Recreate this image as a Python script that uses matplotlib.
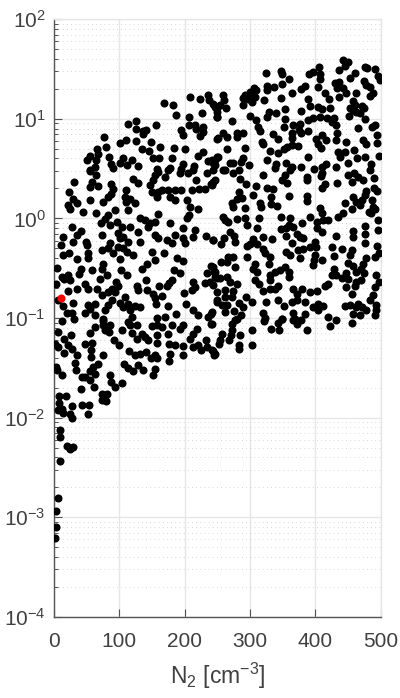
import numpy as np
import matplotlib
matplotlib.use('Agg')
import matplotlib.pyplot as plt
from matplotlib.ticker import FixedLocator, NullFormatter

# points as (N2, log10 of the y value), by region
top_left = [(168,1.16),(182.6,1.135),(186.7,1.04),(208,1.22),(207,1.02),(227,1.055),(224,1.195),(236,1.24),(237,1.19),(246,1.12),(249,1.07),(249,1.02),
(125.5,0.98),(113,0.95),(155.6,0.94),(125,0.90),(141,0.887),(136,0.88),(137,0.844),(76.5,0.814),(194,0.887),(198,0.837),(206,0.94),(216,0.94),(228,0.92),(218,0.894),(224,0.827),(228,0.87),(249,0.793),
(110,0.784),(101,0.754),(125,0.78),(149,0.764),(79,0.713),(66,0.693),(134,0.70),(145,0.673),(162,0.717),(183.6,0.703),(200,0.696),(228,0.67),(221,0.63),(55,0.63),(68,0.646),(50,0.586),(106,0.603),(119,0.59),(84,0.616),(152,0.61),(161,0.603),(181,0.603),(236,0.58),(246,0.586),(251,0.62),(65,0.586),
(101,0.552),(87,0.542),(112,0.535),(128,0.525),(197,0.546),(214,0.525),(158,0.50),(177.5,0.51),(244,0.552),(63,0.52),(55,0.485),(195,0.50),(90,0.51)]

top_right = [(324,1.457),(347,1.484),(348.5,1.45),(360,1.403),(390,1.45),(396,1.467),(405.6,1.524),(408,1.45),(407,1.40),(404.5,1.323),(442,1.594),(450,1.567),(445,1.534),(436,1.49),(476,1.52),(479,1.515),(492,1.50),(496,1.43),(499,1.39),(461,1.457),(453,1.407),(474,1.383),(478.5,1.34),(483.6,1.323),(430,1.356),(436.7,1.373),(433.6,1.306),(443,1.306),(447,1.263),(415,1.256),
(349.5,1.346),(337,1.323),(325.5,1.333),(326.5,1.29),(384,1.33),(377.5,1.296),(363.8,1.256),(306,1.306),(309,1.29),(300,1.273),(292,1.24),(288.8,1.206),(302.6,1.22),(297.5,1.195),(307.6,1.216),(302.6,1.172),(290,1.14),(321.4,1.19),(347,1.206),(259,1.24),(260,1.19),(244,1.145),(249,1.105),(263,1.105),(254,1.14),(249,1.02),
(389,1.196),(392,1.13),(421,1.196),(423,1.105),(404.5,1.12),(410,1.10),(436.7,1.216),(463,1.263),(483.6,1.23),(488.7,1.256),(458,1.18),(453,1.105),(460.7,1.14),(474.4,1.105),(463,1.07),(452,1.03),(468,1.055),(476,1.0),(458,1.09),(471,1.125),
(353.5,1.10),(377.5,1.075),(329.6,1.07),(339.8,1.055),(325.5,1.015),(353.5,0.998),(300,1.03),(309,0.988),(272,0.975),(389,0.988),(397,1.01),(407,1.015),(418,1.005),(428.5,1.005),(431.6,0.94),(425,0.97),(492,0.937),(487.7,0.92),(465.8,0.904),
(366,0.937),(376.5,0.948),(375.5,0.887),(352,0.914),(311.7,0.92),(315.3,0.88),(335.7,0.847),(363.8,0.86),(389,0.877),(379,0.854),(363.8,0.804),(343.4,0.794),(259.2,0.86),(251.5,0.804),(264.3,0.82),(279.6,0.854),(288.8,0.86),(281,0.814),
(401,0.794),(411,0.837),(416.3,0.787),(404.5,0.744),(408.6,0.703),(433.6,0.854),(432.6,0.787),(447,0.77),(495.3,0.837),(495.3,0.76),(473.4,0.787),(478.5,0.747),(318,0.77),(320.4,0.744),(363.8,0.737),(357,0.72),(352,0.693),(374,0.73),(343.4,0.653),(330.6,0.68),(265.3,0.693),(292.4,0.703),
(435,0.67),(445.4,0.67),(459,0.686),(437.7,0.62),(464.2,0.603),(476,0.62),(498,0.63),(389.3,0.62),(249,0.62),(241.4,0.586),(289.8,0.603),(325.5,0.586),(287,0.57),(450.5,0.56),(339.3,0.546),(355,0.552),(269.4,0.552),(274.5,0.552),(299,0.532),(363.8,0.519),(377.5,0.519),(417.3,0.546),(409.7,0.519),(432.6,0.519),(398,0.50),(486,0.546),(483.6,0.49),(246.5,0.536),(259,0.49),(338,0.51)]

mid_left = [(55,0.479),(65,0.435),(31,0.37),(57.6,0.368),(55,0.318),(68,0.325),(88,0.35),(90,0.30),(121,0.40),(129,0.36),(111,0.285),(88,0.25),(83,0.217),(108.6,0.217),(116,0.20),(124,0.15),(111,0.167),(23.5,0.268),(29.6,0.20),(35.7,0.15),(22,0.134),(24.5,0.094),(45,0.067),(55,0.184),(74.5,0.167),(63.8,0.05),(93,0.083),(112.7,0.083),(83,0.033),(78,-0.01),(72,-0.044),(86,-0.067),(97,-0.034),(103.5,-0.084),(116,-0.084),(131.6,0),(147,-0.05),(139,-0.017),(154.5,-0.034),(158.6,0.04),(144.4,-0.084),(178,-0.044),(203,0),(206.6,0.033),(208,0.117),(203,0.184),(221,0.09),
(152,0.385),(154.5,0.435),(159.6,0.469),(170,0.418),(175,0.485),(147,0.335),(149.5,0.268),(158.6,0.268),(157,0.217),(177.5,0.217),(185,0.184),(165,0.285),(175,0.285),(185,0.285),(195,0.285),(210.6,0.285),(222.4,0.30),(231,0.30),(241,0.35),(246,0.385),(193,0.452),(205.5,0.452),(218,0.385),(233.6,0.452),(213,0.485),(244,0.485),
(28,-0.084),(41,-0.124),(34.7,-0.168),(13.3,-0.19),(29.6,-0.235),(10.2,-0.268),(48.5,-0.235),(51,-0.268),(23.5,-0.352),(14.3,-0.369),(34.7,-0.412),(51.5,-0.352),(52.6,-0.402),(73,-0.168),(85.7,-0.25),(73,-0.32),(83,-0.30),(90.8,-0.352),(101,-0.406),(98.5,-0.15),(101,-0.2),(106,-0.184),(113.7,-0.235),(98.5,-0.285),(106,-0.30),(112,-0.335),(121.4,-0.369),(131.6,-0.235),(128,-0.134),(149.4,-0.335),(168.3,-0.352),(154.5,-0.42),(141.8,-0.453),(134,-0.503),(159.6,-0.2),(154.5,-0.168),(172.4,-0.218),(185,-0.168),(181,-0.25),(198,-0.094),(198,-0.2),(200.5,-0.25),(216,-0.117),(213,-0.19),(232.6,-0.178),(243,-0.218),(187.7,-0.402),(197,-0.429),(184,-0.52),(193,-0.553),(241,-0.48),(246.4,-0.536),(233.6,-0.553),(250,-0.603),
(5,-0.493),(41,-0.503),(38.8,-0.56),(57.6,-0.513),(75.5,-0.453),(73,-0.503),(102,-0.513),(112,-0.566),(80.6,-0.57),(70.4,-0.613),(11.8,-0.587),(22,-0.57),(15.3,-0.613),(24.5,-0.62),(3,-0.654),(47.5,-0.66),(52.6,-0.704),(65.3,-0.704),(34.7,-0.71),(22,-0.73),(140.8,-0.62),(95,-0.637),(98.5,-0.68),(88.3,-0.704),(93.4,-0.737),(83,-0.737),(73,-0.77),(126.5,-0.68),(129,-0.714),(141.8,-0.72),(161,-0.677),(152,-0.754),(172.4,-0.68),(180,-0.62),(176,-0.65),(213,-0.637),(215.7,-0.687),(212,-0.714),(199,-0.744),(231,-0.647),(238.7,-0.637),(244,-0.67),(249,-0.737),
(6.6,-0.82),(13.3,-0.878),(29.6,-0.851),(108.6,-0.794),(101,-0.848),(113.7,-0.855),(106,-0.888),(124,-0.878),(131.6,-0.888),(116,-0.92),(88.3,-0.82),(83,-0.871),(78,-0.92),(62.8,-0.861),(52.6,-0.871),(55,-0.905),(47.5,-0.948),(19.4,-0.945),(27,-0.948),(62.8,-0.972),(75.5,-1.015),(118.9,-0.99),(154.5,-0.804),(155.6,-0.861),(164.8,-0.78),(175,-0.881),(186.7,-0.955),(201.5,-0.855),(213,-0.92),(221,-0.972),(241,-0.955),(236,-0.99),(249,-0.838),(169.9,-0.988),(157,-1.005)]

mid_right = [(244,0.368),(241.4,0.335),(261.8,0.485),(274.5,0.452),(283.7,0.485),(284.7,0.392),(294,0.35),(310,0.325),(320.4,0.435),(325.5,0.301),(335.7,0.291),(348.5,0.385),(353.5,0.435),(361,0.485),(357,0.358),(386.7,0.418),(387.7,0.385),(411,0.459),(409.6,0.425),(414.8,0.345),(411,0.301),(433.6,0.351),(450.5,0.435),(459,0.459),(465.8,0.418),(473.4,0.385),(455.6,0.368),(490.2,0.402),(489.7,0.301),(495.3,0.278),(478.5,0.278),(477,0.234),(458,0.217),(487.2,0.184),(446.4,0.16),(472.4,0.184),(463.2,0.167),(468.3,0.134),(455.6,0.094),(488.7,0.117),(482.6,0.067),(486.2,0.05),(491,0.09),(442.8,0.05),(435,0.01),
(283.7,0.261),(287.2,0.201),(279.6,0.191),(272,0.15),(274.5,0.11),(292.4,0.10),(305.1,0.234),(315.3,0.15),(316.3,0.11),(332.1,0.217),(331.6,0.14),(341.8,0.124),(359.7,0.224),(386.7,0.224),(386.7,0.177),(408.1,0.10),(409.7,0.05),(391.8,0.016),(412.2,-0.017),(419.9,-0.017),(402,-0.034),(402,-0.1),(346.9,0.016),(361.2,0),(360.2,-0.067),(346.9,-0.11),(355.1,-0.1),(366.3,-0.084),(380.1,-0.05),(355.1,-0.178),(372.4,-0.158),(376.5,-0.184),(363.8,-0.25),(381.6,-0.201),(410.7,-0.134),
(258.2,0.016),(261.8,-0.017),(266.9,-0.034),(279.6,-0.01),(292.4,0),(294.9,-0.067),(314.3,0),(311.2,-0.094),(269.4,-0.134),(275.5,-0.178),(277.1,-0.241),(260.2,-0.201),(255.6,-0.258),(242.9,-0.221),(304.1,-0.208),(320.4,-0.191),(333.7,-0.208),(300,-0.252),(294.9,-0.278),(310.2,-0.252),(320.4,-0.302),(323,-0.352),(294.9,-0.392),(330.6,-0.386),(329.6,-0.453),(307.6,-0.453),(305.1,-0.503),(310.2,-0.536),
(266.9,-0.392),(274.5,-0.392),(255.6,-0.442),(264.3,-0.436),(277.1,-0.486),(242.9,-0.486),(244.9,-0.536),(353.5,-0.486),(345.9,-0.52),(338.3,-0.536),(330.6,-0.57),(359.7,-0.536),(360.2,-0.593),(330.6,-0.62),
(374,-0.319),(381.6,-0.302),(391.8,-0.285),(399.4,-0.235),(401,-0.285),(355.1,-0.335),(361.2,-0.369),(376.5,-0.396),(399.4,-0.369),(397.9,-0.419),(396.9,-0.469),(409.7,-0.419),(431.6,-0.178),(425.5,-0.285),(441.3,-0.308),(428.5,-0.375),(455.6,-0.319),(453,-0.369),(458.1,-0.124),(458.1,-0.184),(476,-0.074),(476,-0.158),(477,-0.245),(496.4,-0.017),(496.4,-0.118),(495.3,-0.275),(497.9,-0.352),(491.3,-0.386),(478.5,-0.402),(473.4,-0.453),(450.5,-0.443),(458.1,-0.479),(463.2,-0.536),(474.4,-0.553),(470.9,-0.503),
(429,-0.503),(425,-0.57),(432.6,-0.57),(440.3,-0.603),(447.9,-0.553),(450.5,-0.613),(447.9,-0.687),(419.9,-0.654),(414.8,-0.68),(463.2,-0.637),(470.9,-0.62),(460.7,-0.68),(493.8,-0.57),(497.9,-0.637),(491.3,-0.687),(455.6,-0.754),(488.7,-0.771),(483.6,-0.821),
(307.6,-0.62),(314.3,-0.66),(343.4,-0.68),(338.3,-0.704),(330.6,-0.704),(320.4,-0.727),(366.3,-0.704),(379.1,-0.704),(372.4,-0.754),(391.8,-0.737),(402,-0.727),(343.4,-0.821),(352,-0.881),(324.5,-0.838),(363.8,-0.838),(371.4,-0.821),(384.2,-0.838),(396.9,-0.888),(404.6,-0.855),(412.2,-0.878),(404.6,-0.922),
(445.4,-0.878),(453,-0.871),(465.8,-0.855),(463.2,-0.888),(472.4,-0.888),(477.5,-0.922),(492.8,-0.871),(493.8,-0.922),(458.1,-0.955),(469.3,-0.972),(492.3,-0.972),(419.9,-0.988),
(246.5,-0.587),(254.1,-0.603),(265.3,-0.587),(269.4,-0.637),(279.6,-0.654),(261.8,-0.72),(274.5,-0.727),(261.8,-0.788),(272,-0.788),(249,-0.821),(256.7,-0.871),(264.3,-0.871),(283.7,-0.845),(293.9,-0.794),(302.6,-0.838),(289.8,-0.888),(275.5,-0.928),(261.8,-0.938),(241.4,-0.938),(285.7,-0.972),(279.6,-1.015),(320.4,-0.948),(323,-1.005),(366.3,-0.948),(384.2,-0.955),(348.5,-1.015),(368.9,-1.015)]

low_left = [(12.8,-1.03),(31,-1.012),(74.5,-1.03),(62.8,-1.09),(75.5,-1.072),(85.7,-1.072),(55,-1.15),(78,-1.122),(84.7,-1.14),(103.6,-1.122),(116.3,-1.072),(126.5,-1.066),(113.8,-1.039),(118.9,-1.15),(134.2,-1.156),(126.5,-1.206),(139.3,-1.19),(144.4,-1.223),(149.5,-1.079),(157.1,-1.072),(164.8,-1.09),(180,-1.072),(175,-1.156),(157.1,-1.173),(157.1,-1.247),(197.9,-1.072),(192.8,-1.106),(218.3,-1.106),(240.2,-1.062),(212.2,-1.156),(208.1,-1.206),(232.6,-1.223),(91.8,-1.223),(99.5,-1.273),
(5.6,-1.139),(26,-1.166),(15.3,-1.206),(1.5,-1.257),(6.6,-1.29),(22,-1.273),(15.8,-1.347),(28,-1.307),(34.7,-1.374),(47.5,-1.257),(57.6,-1.247),(56.6,-1.317),(56.1,-1.39),(75.5,-1.374),(32.2,-1.448),(33.7,-1.518),(3.1,-1.491),(4.1,-1.524),(12.8,-1.568),(42.4,-1.592),(47.5,-1.592),(55,-1.618),(55,-1.534),(62.8,-1.565),(67.9,-1.457),(60.2,-1.491),(85.7,-1.575),(87.2,-1.642),(93.4,-1.692),(104.6,-1.655),(61.2,-1.692),(40.8,-1.716),
(176.5,-1.257),(185.2,-1.273),(197.9,-1.28),(212.2,-1.29),(220.9,-1.273),(225,-1.317),(233.6,-1.29),(243.8,-1.33),(245.3,-1.367),(196.9,-1.374),(177.5,-1.364),(176.5,-1.434),(115.3,-1.33),(123.9,-1.374),(131.6,-1.357),(140.8,-1.34),(147.9,-1.4),(157.1,-1.4),(154.5,-1.367),(107.6,-1.457),(113.8,-1.498),(121.4,-1.531),(129,-1.474),(135.7,-1.518),(154.5,-1.515),(151,-1.568),
(8.2,-1.786),(18.4,-1.786),(8.2,-1.853),(27,-1.886),(42.4,-1.876),(54.1,-1.87),(6.6,-1.927),(12.8,-1.91),(14.3,-1.953),(24.5,-1.96),(28,-2.0),(51.5,-1.96),(73,-1.826),(80.6,-1.759),(79.6,-1.833),(74,-1.759),(9.2,-2.128),(9.2,-2.195),(20.4,-2.288),(24.5,-2.312),(28.6,-2.295),(9.2,-2.436)]

low_right = [(241.4,-1.056),(272,-1.062),(277,-1.022),(302.6,-1.123),(321.4,-1.032),(331.6,-1.113),(343.4,-1.046),(349.5,-1.012),(344.4,-1.116),(366.3,-1.022),(372.4,-1.056),(377.5,-1.022),(388.2,-1.123),(432.1,-1.022),(422.4,-1.079),(455.6,-1.046),(272,-1.123),(270.4,-1.173),(268.4,-1.216),(256.7,-1.163),(254.1,-1.216),(253.1,-1.257),(284.7,-1.17),(283.7,-1.273),(283.7,-1.307),(302.6,-1.267),(241.4,-1.317),(246.5,-1.357)]

tail = [(5.6,-2.804),(3.1,-2.942),(2.6,-3.10),(1.5,-3.206)]
highlight = [(10,-0.804)]

x_ticks = [0, 100, 200, 300, 400, 500]
y_exps = [-4, -3, -2, -1, 0, 1, 2]
y_labels = ['10$^{\\mathrm{%d}}$' % e for e in y_exps]

plt.rcParams['font.family'] = ['Liberation Sans', 'DejaVu Sans']
plt.rcParams['mathtext.fontset'] = 'custom'
plt.rcParams['mathtext.rm'] = 'Liberation Sans'
plt.rcParams['mathtext.default'] = 'regular'

fig = plt.figure(figsize=(4.0, 6.98), dpi=100)
ax = fig.add_axes([54/400, 1-616.7/698, 326.5/400, 597.4/698])

pts = np.array(top_left + top_right + mid_left + mid_right + low_left + low_right + tail)
ax.plot(pts[:,0], 10.0**pts[:,1], 'o', color='black', ms=5.8, mew=0, zorder=3)
red = np.array(highlight)
ax.plot(red[:,0], 10.0**red[:,1], 'o', color='#ff0000', ms=5.8, mew=0, zorder=4)

ax.set_yscale('log')
ax.set_xlim(0, 500)
ax.set_ylim(1e-4, 1e2)
ax.set_xticks(x_ticks)
ax.set_yticks([10.0**e for e in y_exps])
ax.set_yticklabels(y_labels)
ax.yaxis.set_minor_locator(FixedLocator([m*10.0**e for e in y_exps[:-1] for m in range(2, 10)]))
ax.yaxis.set_minor_formatter(NullFormatter())

ax.grid(True, which='major', color='#e6e6e6', lw=1.0)
ax.grid(True, which='minor', axis='y', color='#c8c8c8', lw=0.6, ls=(0, (1, 4)))
ax.set_axisbelow(True)
ax.tick_params(which='major', direction='in', length=6, width=0.8, color='#505050', labelcolor='#404040', labelsize=15, top=False, right=False)
ax.tick_params(which='minor', direction='in', length=3, width=0.7, color='#505050', top=False, right=False)
ax.tick_params(axis='x', pad=11)
ax.tick_params(axis='y', pad=6)
for s in ['left', 'bottom']:
    ax.spines[s].set_color('#555555')
    ax.spines[s].set_linewidth(1.0)
for s in ['top', 'right']:
    ax.spines[s].set_color('#e6e6e6')
    ax.spines[s].set_linewidth(1.0)

ax.set_xlabel('N$_2$ [cm$^{-3}$]', fontsize=16.5, color='#404040', labelpad=7)
fig.savefig('out.png', dpi=100)
